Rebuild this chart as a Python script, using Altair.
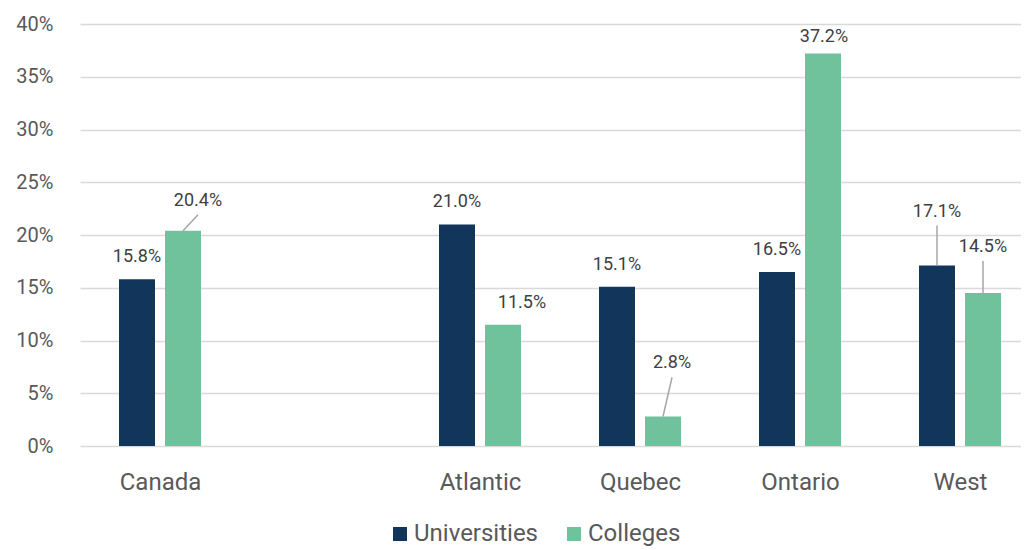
import json
import altair as alt
import pandas as pd

# ---- data ----
regions = ["Canada", "", "Atlantic", "Quebec", "Ontario", "West"]
universities = [15.8, None, 21.0, 15.1, 16.5, 17.1]
colleges = [20.4, None, 11.5, 2.8, 37.2, 14.5]
series = ["Universities", "Colleges"]
colors = ["#12355b", "#6fc29b"]

# ---- layout / style ----
W, H = 941, 422
SLOT = 160.0            # px per category slot
PX_PCT = H / 40.0       # px per percentage point
bar_off_px = {"Universities": -23, "Colleges": 23}
# label placement (px, relative to bar-top centre): dx, dy, leader line
label_place = {
    ("Canada", "Colleges"): (15, -30, True),
    ("Atlantic", "Colleges"): (19, -22, False),
    ("Quebec", "Colleges"): (9, -53, True),
    ("Ontario", "Colleges"): (1, -17, False),
    ("West", "Universities"): (0, -54, True),
    ("West", "Colleges"): (0, -46, True),
}
default_place = (0, -22, False)

rows = []
for i, r in enumerate(regions):
    for s, vals in zip(series, [universities, colleges]):
        v = vals[i]
        if v is None:
            continue
        dx, dy, leader = label_place.get((r, s), default_place)
        x = i + bar_off_px[s] / SLOT
        rows.append(dict(
            region=r, series=s, value=v, x=x,
            lx=x + dx / SLOT, ly=v - dy / PX_PCT,
            lend=v - (dy + 14) / PX_PCT, leader=leader,
            label=f"{v:.1f}%",
        ))
df = pd.DataFrame(rows)

x_label_expr = json.dumps(regions) + "[datum.value]"
x_vals = [i for i, r in enumerate(regions) if r]

xscale = alt.Scale(domain=[-0.5, -0.5 + W / SLOT], nice=False, zero=False, padding=0)
yscale = alt.Scale(domain=[0, 40], nice=False, padding=0)

base = alt.Chart(df)

bars = base.mark_bar(size=36).encode(
    x=alt.X("x:Q", scale=xscale,
            axis=alt.Axis(values=x_vals, labelExpr=x_label_expr, grid=False,
                          domain=False, ticks=False, labelFontSize=24,
                          labelColor="#595959", labelFont="Roboto",
                          labelPadding=24, title=None)),
    y=alt.Y("value:Q", scale=yscale,
            axis=alt.Axis(values=list(range(0, 41, 5)),
                          labelExpr="datum.value + '%'", grid=True,
                          gridColor="#d9d9d9", gridWidth=1.5, domain=False,
                          ticks=False, labelFontSize=20, labelColor="#595959",
                          labelFont="Roboto", labelPadding=27, title=None)),
    color=alt.Color("series:N", scale=alt.Scale(domain=series, range=colors),
                    legend=alt.Legend(orient="none", legendX=308, legendY=498,
                                      direction="horizontal", title=None,
                                      symbolType="square", symbolSize=196,
                                      symbolStrokeWidth=0, labelFontSize=24,
                                      labelColor="#595959", labelFont="Roboto",
                                      columnPadding=23, labelOffset=2,
                                      padding=0)),
)

leaders = base.transform_filter("datum.leader").mark_rule(
    color="#a6a6a6", strokeWidth=1.5
).encode(
    x=alt.X("x:Q", scale=xscale), x2="lx:Q",
    y=alt.Y("value:Q", scale=yscale), y2="lend:Q",
)

labels = base.mark_text(font="Roboto", fontSize=18, color="#404040",
                        baseline="middle", align="center").encode(
    x=alt.X("lx:Q", scale=xscale),
    y=alt.Y("ly:Q", scale=yscale),
    text="label:N",
)

chart = alt.layer(bars, leaders, labels).properties(
    width=W, height=H,
    autosize=alt.AutoSizeParams(type="none"),
    padding={"left": 72, "top": 16, "right": 0, "bottom": 100},
).configure_view(strokeOpacity=0)

chart.save("out.html", embed_options={"renderer": "svg", "actions": False})
